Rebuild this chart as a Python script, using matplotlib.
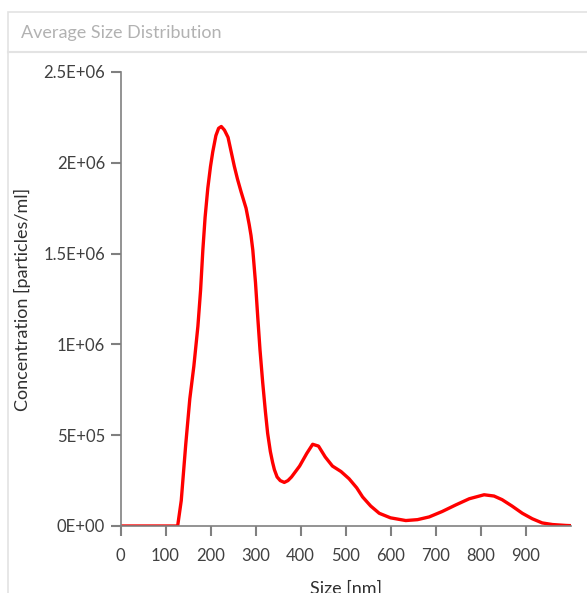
import matplotlib.pyplot as plt
from matplotlib.lines import Line2D
from matplotlib.patches import Rectangle

# ----------------------------------
# Data
# ----------------------------------
size_nm = [0, 100, 127, 135, 145, 154, 163, 172, 178, 183, 188, 194, 200,
           205, 212, 218, 224, 231, 239, 246, 253, 260, 268, 279, 286, 290,
           294, 300, 305, 310, 316, 322, 327, 333, 338, 342, 348, 355, 364,
           372, 380, 398, 414, 427, 440, 455, 471, 490, 508, 525, 538, 556,
           575, 600, 634, 660, 686, 715, 745, 775, 808, 830, 848, 870, 893,
           915, 937, 960, 990, 1000]
conc = [0, 0, 0, 0.14, 0.45, 0.70, 0.88, 1.10, 1.30, 1.52, 1.70, 1.86, 1.98,
        2.06, 2.15, 2.19, 2.20, 2.18, 2.14, 2.06, 1.98, 1.91, 1.84, 1.75, 1.66,
        1.60, 1.52, 1.34, 1.15, 0.97, 0.79, 0.63, 0.51, 0.41, 0.35, 0.31, 0.27,
        0.25, 0.24, 0.25, 0.27, 0.33, 0.40, 0.45, 0.44, 0.38, 0.33, 0.30, 0.26,
        0.21, 0.16, 0.11, 0.07, 0.045, 0.03, 0.035, 0.05, 0.08, 0.116, 0.15,
        0.172, 0.165, 0.145, 0.11, 0.07, 0.04, 0.017, 0.008, 0.003, 0.002]
conc = [c * 1e6 for c in conc]

x_ticks = [0, 100, 200, 300, 400, 500, 600, 700, 800, 900]
y_ticks = [0, 5e5, 1e6, 1.5e6, 2e6, 2.5e6]
y_labels = ["0E+00", "5E+05", "1E+06", "1.5E+06", "2E+06", "2.5E+06"]

plt.rcParams['font.family'] = ['Lato', 'DejaVu Sans']

W, H = 587, 593
fig = plt.figure(figsize=(W / 100, H / 100), dpi=100)

# panel frame and header
fig.patches.append(Rectangle((8 / W, -0.1), 1.2, 1 - 12 / H + 0.1,
                             transform=fig.transFigure, fill=False,
                             edgecolor='#e3e3e3', lw=1.2))
fig.lines.append(Line2D([8 / W, 1], [1 - 52 / H] * 2, transform=fig.transFigure,
                        color='#e3e3e3', lw=1.5))
fig.text(21 / W, 1 - 33 / H, "Average Size Distribution", color='#b2b2b2',
         fontsize=13, va='center', ha='left')

ax = fig.add_axes([120.5 / W, 1 - 526 / H, 450 / W, 454 / H])
ax.plot(size_nm, conc, color='#ff0000', lw=2.4, solid_joinstyle='round')

ax.set_xlim(0, 1000)
ax.set_ylim(0, 2.5e6)
ax.set_xticks(x_ticks)
ax.set_yticks(y_ticks)
ax.set_yticklabels(y_labels)

for s in ['top', 'right']:
    ax.spines[s].set_visible(False)
for s in ['left', 'bottom']:
    ax.spines[s].set_color('#808080')
    ax.spines[s].set_linewidth(1.2)
ax.tick_params(colors='#808080', width=1.5, length=7, labelcolor='#404040',
               labelsize=12)
ax.tick_params(axis='x', pad=9)
ax.tick_params(axis='y', pad=4)

ax.set_xlabel("Size [nm]", fontsize=13, color='#303030', labelpad=12)
ax.set_ylabel("Concentration [particles/ml]", fontsize=13, color='#303030',
              labelpad=9)

fig.savefig("out.png", dpi=100)
